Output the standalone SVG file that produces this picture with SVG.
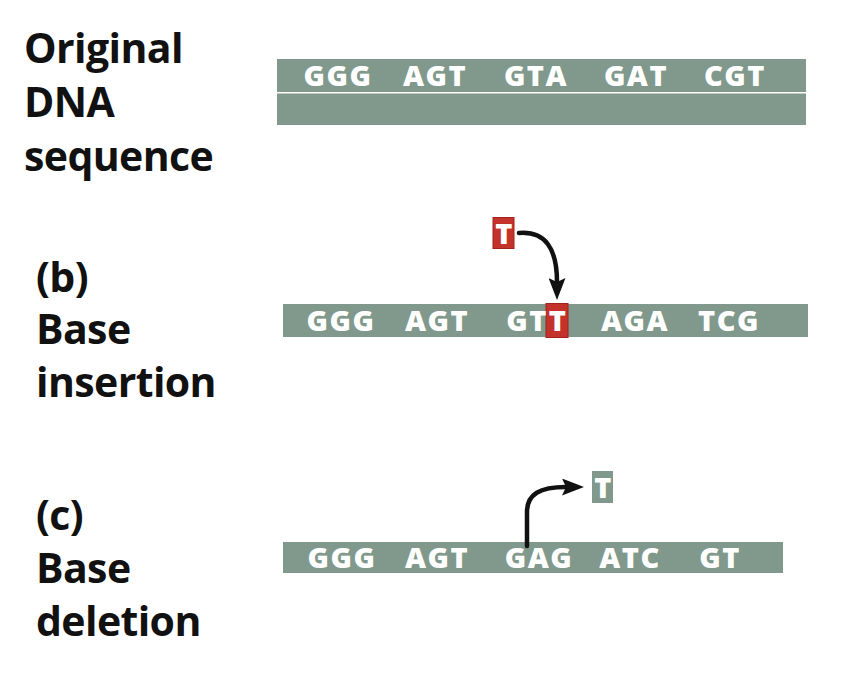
<svg xmlns="http://www.w3.org/2000/svg" width="852" height="674" viewBox="0 0 852 674">
<style>
.lbl{font-family:"Open Sans","Noto Sans",sans-serif;font-weight:700;font-size:41px;letter-spacing:-0.6px;fill:#111}
.seq{font-family:"Open Sans","Noto Sans",sans-serif;font-weight:800;font-size:29px;fill:#fff;letter-spacing:1.5px}
.bar{fill:#80998c}
.red{fill:#c3322b;stroke:#a3221d;stroke-width:1}
.arr{fill:none;stroke:#111;stroke-width:4.5;stroke-linecap:round}
</style>
<defs>
<marker id="ah" viewBox="0 0 22 17" refX="4" refY="8.5" markerWidth="22" markerHeight="17" markerUnits="userSpaceOnUse" orient="auto">
<path d="M0,0 L22,8.5 L0,17 L4,8.5 z" fill="#111"/>
</marker>
</defs>
<rect width="852" height="674" fill="#fff"/>

<g id="label-original">
<text class="lbl" x="24" y="63">Original</text>
<text class="lbl" x="24" y="117">DNA</text>
<text class="lbl" x="24" y="171">sequence</text>
</g>
<g id="label-insertion">
<text class="lbl" x="36" y="292">(b)</text>
<text class="lbl" x="36" y="344">Base</text>
<text class="lbl" x="36" y="397">insertion</text>
</g>
<g id="label-deletion">
<text class="lbl" x="36" y="530">(c)</text>
<text class="lbl" x="36" y="583">Base</text>
<text class="lbl" x="36" y="636">deletion</text>
</g>

<g id="original-dna">
<rect class="bar" x="277" y="59" width="529" height="33"/>
<rect class="bar" x="277" y="93.5" width="529" height="31.5"/>
<g class="seq" text-anchor="middle">
<text x="338" y="86">GGG</text>
<text x="435" y="86">AGT</text>
<text x="536" y="86">GTA</text>
<text x="636" y="86">GAT</text>
<text x="735" y="86">CGT</text>
</g>
</g>

<g id="insertion-dna">
<rect class="bar" x="283" y="304" width="525" height="33"/>
<rect class="red" x="546" y="303.5" width="22" height="34"/>
<g class="seq" text-anchor="middle">
<text x="341" y="331">GGG</text>
<text x="437" y="331">AGT</text>
<text x="527" y="331">GT</text>
<text x="558" y="331">T</text>
<text x="635" y="331">AGA</text>
<text x="729" y="331">TCG</text>
</g>
</g>
<g id="inserted-T">
<rect class="red" x="493" y="217.5" width="21" height="31"/>
<text class="seq" x="504.5" y="244" text-anchor="middle">T</text>
</g>

<g id="deletion-dna">
<rect class="bar" x="283" y="542" width="500" height="31"/>
<g class="seq" text-anchor="middle">
<text x="342" y="568">GGG</text>
<text x="437" y="568">AGT</text>
<text x="539" y="568">GAG</text>
<text x="630" y="568">ATC</text>
<text x="720" y="568">GT</text>
</g>
</g>
<g id="deleted-T">
<rect class="bar" x="592" y="471" width="21" height="32"/>
<text class="seq" x="603.5" y="498" text-anchor="middle">T</text>
</g>

<g id="connectors">
<path class="arr" d="M519,233 C545,231 557,248 557,282" marker-end="url(#ah)"/>
<path class="arr" d="M527,546 L527,512 C527,494 540,487 566,487" marker-end="url(#ah)"/>
</g>
</svg>
